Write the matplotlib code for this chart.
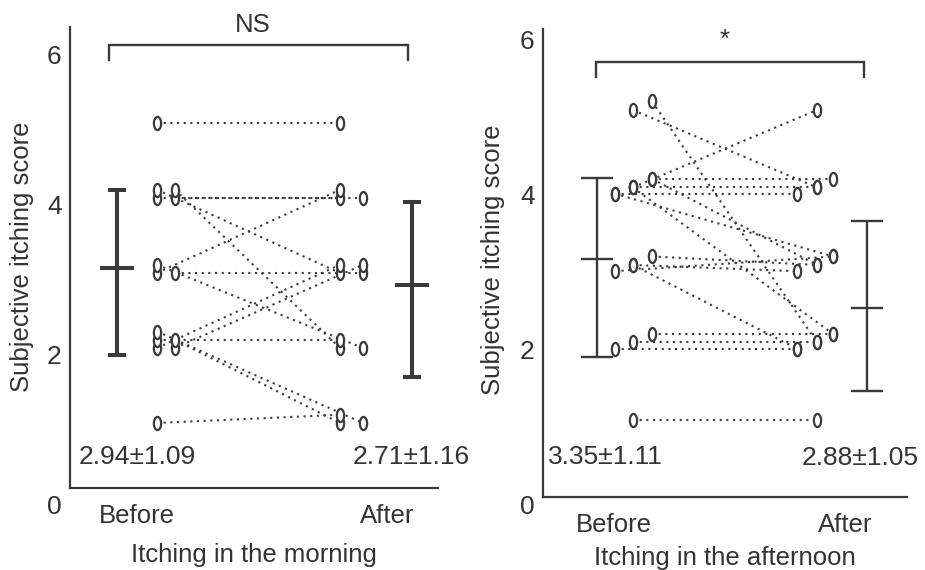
import matplotlib
matplotlib.use('Agg')
from matplotlib import pyplot as plt
from matplotlib.markers import MarkerStyle
from matplotlib.transforms import Affine2D, ScaledTranslation

plt.rcParams['font.family'] = ['Liberation Sans', 'DejaVu Sans']
plt.rcParams['font.size'] = 18.5
plt.rcParams['text.color'] = '#333333'
plt.rcParams['axes.labelcolor'] = '#333333'
plt.rcParams['xtick.color'] = '#333333'
plt.rcParams['ytick.color'] = '#333333'

# paired scores, one entry per patient (before[i] -> after[i])
morning_before = [5, 4, 4, 4, 4, 3, 3, 3, 2, 2, 2, 2, 2, 1]
morning_after = [5, 4, 4, 3, 2, 4, 3, 2, 3, 3, 2, 1, 1, 1]
afternoon_before = [5, 5, 4, 4, 4, 4, 4, 4, 4, 3, 3, 3, 3, 2, 2, 2, 1]
afternoon_after = [4, 2, 5, 4, 4, 4, 3, 3, 2, 3, 3, 3, 2, 2, 2, 2, 1]

# error bars as drawn in the figure: (low, mean, high)
morning_bars = [(1.91, 3.07, 4.11), (1.61, 2.84, 3.95)]
afternoon_bars = [(1.81, 3.08, 4.12), (1.38, 2.45, 3.57)]

morning_stats = ['2.94±1.09', '2.71±1.16']
afternoon_stats = ['3.35±1.11', '2.88±1.05']
groups = ['Before', 'After']
yticks = [0, 2, 4, 6]
xlabels = ['Itching in the morning', 'Itching in the afternoon']
signif = ['NS', '*']

DARK = '#3a3a3a'


def stack(values, base, cols, dys):
    # spread equal scores a little so they stay visible
    seen = {}
    xs, ys = [], []
    for v in values:
        k = seen.get(v, 0)
        seen[v] = k + 1
        xs.append(base + cols[k % len(cols)])
        ys.append(v + dys[k % len(dys)])
    return xs, ys


panels = [
    dict(before=morning_before, after=morning_after, bars=morning_bars,
         stats=morning_stats, xlabel=xlabels[0], sig=signif[0],
         rect=[70/925, 49.5/570, 368/925, 495/570],
         ylim=(-0.3, 6.3), base=0.13, top=6.28, xlim=(0.732, 2.204),
         bcols=[0.08, 0.152], acols=[-0.188, -0.096],
         dys=[0, 0, 0.11, 0.11, 0.22], ncyc=5,
         barx=[0.92, 2.10], cap=6.5, meanw=23.8, blw=2.9,
         brx=(0.888, 2.084), bry=(5.84, 6.04), sigpos=(1.464, 6.31),
         statpos=[(1.0, 0.55), (2.096, 0.55)],
         ylab=(-0.130, 0.532), xlab=(0.5, -0.0697)),
    dict(before=afternoon_before, after=afternoon_after, bars=afternoon_bars,
         stats=afternoon_stats, xlabel=xlabels[1], sig=signif[1],
         rect=[543/925, 45.4/570, 364/925, 496/570],
         ylim=(-0.35, 6.05), base=0.0, top=6.05, xlim=(0.693, 2.268),
         bcols=[0.082, 0.165, 0.004], acols=[-0.121, -0.052, -0.208],
         dys=[0, 0.11, -0.08], ncyc=3,
         barx=[0.926, 2.095], cap=11.5, meanw=23.0, blw=1.7,
         brx=(0.922, 2.082), bry=(5.43, 5.62), sigpos=(1.48, 5.9),
         statpos=[(0.965, 0.52), (2.065, 0.51)],
         ylab=(-0.137, 0.533), xlab=(0.5, -0.0673)),
]

fig = plt.figure(figsize=(9.25, 5.7), dpi=100)
oval = MarkerStyle('o', transform=Affine2D().scale(0.55, 1.0))

for p in panels:
    ax = fig.add_axes(p['rect'])
    ax.set_xlim(*p['xlim'])
    ax.set_ylim(*p['ylim'])

    n = p['ncyc']
    bcols = [p['bcols'][k % len(p['bcols'])] for k in range(n)]
    acols = [p['acols'][k % len(p['acols'])] for k in range(n)]
    bx, by = stack(p['before'], 1, bcols, p['dys'])
    axx, ayy = stack(p['after'], 2, acols, p['dys'])

    for i in range(len(bx)):
        ax.plot([bx[i], axx[i]], [by[i], ayy[i]], ls=(0, (1, 2.2)), lw=1.5,
                color=DARK, zorder=2)
    ax.plot(bx + axx, by + ayy, ls='none', marker=oval, ms=9.5,
            mfc='white', mec=DARK, mew=1.6, zorder=3)

    for x, (lo, m, hi) in zip(p['barx'], p['bars']):
        ax.errorbar([x], [m], yerr=[[m - lo], [hi - m]], fmt='none',
                    ecolor=DARK, elinewidth=p['blw'], capsize=p['cap'],
                    capthick=p['blw'], zorder=4)
        ax.plot([x], [m], marker='_', ms=p['meanw'], mew=p['blw'],
                color=DARK, zorder=4)

    x0, x1 = p['brx']
    leg, topb = p['bry']
    ax.plot([x0, x0, x1, x1], [leg, topb, topb, leg], color=DARK, lw=1.7,
            clip_on=False, solid_joinstyle='miter')
    ax.text(p['sigpos'][0], p['sigpos'][1], p['sig'], ha='center', va='center')

    for (tx, ty), s in zip(p['statpos'], p['stats']):
        ax.text(tx, ty, s, ha='center', va='center', fontsize=19)

    ax.spines['top'].set_visible(False)
    ax.spines['right'].set_visible(False)
    for side in ['left', 'bottom']:
        ax.spines[side].set_color(DARK)
        ax.spines[side].set_linewidth(1.6)
    ax.spines['bottom'].set_position(('data', p['base']))
    ax.spines['left'].set_bounds(p['base'], p['top'])

    ax.set_xticks([1, 2])
    ax.set_xticklabels(groups)
    ax.set_yticks(yticks)
    ax.set_yticklabels([str(t) for t in yticks], fontsize=19)
    ax.tick_params(axis='x', length=0, pad=11)
    ax.tick_params(axis='y', length=0, pad=6)
    shift = ScaledTranslation(0, -0.07, fig.dpi_scale_trans)
    for lab in ax.get_yticklabels():
        lab.set_transform(lab.get_transform() + shift)

    ax.set_ylabel('Subjective itching score', va='center')
    ax.yaxis.set_label_coords(*p['ylab'])
    ax.set_xlabel(p['xlabel'], va='center')
    ax.xaxis.set_label_coords(*p['xlab'])

fig.savefig('out.png', dpi=100)
